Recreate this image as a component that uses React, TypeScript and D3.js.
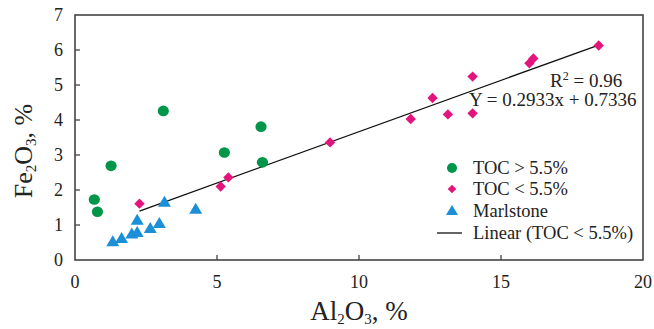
import React from "react";
import * as d3 from "d3";

const tocHighX = [0.68, 0.79, 1.27, 3.11, 5.26, 6.55, 6.6];
const tocHighY = [1.73, 1.38, 2.69, 4.26, 3.07, 3.81, 2.79];

const tocLowX = [2.27, 5.13, 5.4, 8.98, 11.82, 12.59, 13.13, 14.0, 14.0, 16.0, 16.14, 18.44];
const tocLowY = [1.61, 2.1, 2.36, 3.36, 4.03, 4.63, 4.16, 5.24, 4.19, 5.62, 5.76, 6.13];

const marlX = [1.33, 1.64, 2.0, 2.19, 2.19, 2.65, 2.97, 3.15, 4.25];
const marlY = [0.52, 0.61, 0.74, 0.78, 1.13, 0.9, 1.04, 1.65, 1.45];

const fitCoef = [0.2933, 0.7336];
const xTicks = [0, 5, 10, 15, 20];
const yTicks = [0, 1, 2, 3, 4, 5, 6, 7];
const legendLabels = ["TOC > 5.5%", "TOC < 5.5%", "Marlstone", "Linear (TOC < 5.5%)"];

const GREEN = "#00964a";
const PINK = "#e3147c";
const BLUE = "#1b8fd8";
const FONT = "Liberation Serif, DejaVu Serif, Times New Roman, serif";

export default function App() {
  const L = 75, R = 643, T = 15, B = 260;
  const x = d3.scaleLinear().domain([0, 20]).range([L, R]);
  const y = d3.scaleLinear().domain([0, 7]).range([B, T]);

  const lx0 = d3.min(tocLowX) as number;
  const lx1 = d3.max(tocLowX) as number;
  const line = d3.line<number>().x((d) => x(d)).y((d) => y(fitCoef[0] * d + fitCoef[1]));

  const diamond = (cx: number, cy: number, r: number) =>
    `M${cx},${cy - r}L${cx + r},${cy}L${cx},${cy + r}L${cx - r},${cy}Z`;
  const tri = (cx: number, cy: number, w: number, h: number) =>
    `M${cx},${cy - h * 0.6}L${cx + w / 2},${cy + h * 0.4}L${cx - w / 2},${cy + h * 0.4}Z`;

  const legX = 452, legTX = 473;
  const legY = [168, 189, 211, 233];
  const ts = { fontFamily: FONT } as React.CSSProperties;

  return (
    <svg
      width={654}
      height={329}
      style={{ position: "absolute", left: 0, top: 0, background: "#fff", fontFamily: FONT }}
    >
      <rect x={0} y={0} width={654} height={329} fill="#fff" />
      <rect x={L} y={T} width={R - L} height={B - T} fill="none" stroke="#444" strokeWidth={1.6} />
      {xTicks.slice(1, -1).map((t) => (
        <line key={"xt" + t} x1={x(t)} x2={x(t)} y1={B} y2={B - 5} stroke="#444" strokeWidth={1.3} />
      ))}
      {yTicks.slice(1, -1).map((t) => (
        <line key={"yt" + t} x1={L} x2={L + 5} y1={y(t)} y2={y(t)} stroke="#444" strokeWidth={1.3} />
      ))}
      {xTicks.map((t) => (
        <text key={"xl" + t} style={ts} x={x(t)} y={288} fontSize={18} textAnchor="middle" fill="#222">
          {t}
        </text>
      ))}
      {yTicks.map((t) => (
        <text key={"yl" + t} style={ts} x={63} y={y(t) + 6} fontSize={18} textAnchor="end" fill="#222">
          {t}
        </text>
      ))}
      <text style={ts} x={359} y={320} fontSize={27} textAnchor="middle" fill="#222">
        Al<tspan fontSize={15} dy={4}>2</tspan>
        <tspan dy={-4}>O</tspan>
        <tspan fontSize={15} dy={4}>3</tspan>
        <tspan dy={-4}>, %</tspan>
      </text>
      <text
        style={ts}
        transform={`translate(32,151) rotate(-90)`}
        x={0}
        y={0}
        fontSize={26}
        textAnchor="middle"
        fill="#222"
      >
        Fe<tspan fontSize={15} dy={4}>2</tspan>
        <tspan dy={-4}>O</tspan>
        <tspan fontSize={15} dy={4}>3</tspan>
        <tspan dy={-4}>, %</tspan>
      </text>
      <path d={line([lx0, lx1]) || ""} fill="none" stroke="#111" strokeWidth={1.3} />
      {tocHighX.map((v, i) => (
        <ellipse key={"g" + i} cx={x(v)} cy={y(tocHighY[i])} rx={5.6} ry={5.3} fill={GREEN} />
      ))}
      {tocLowX.map((v, i) => (
        <path key={"p" + i} d={diamond(x(v), y(tocLowY[i]), 5.2)} fill={PINK} />
      ))}
      {marlX.map((v, i) => (
        <path key={"b" + i} d={tri(x(v), y(marlY[i]), 13, 11)} fill={BLUE} />
      ))}
      <text style={ts} x={550} y={87} fontSize={19} fill="#222">
        R<tspan fontSize={12} dy={-7}>2</tspan>
        <tspan dy={7}> = 0.96</tspan>
      </text>
      <text style={ts} x={469} y={106} fontSize={19} fill="#222">
        Y = 0.2933x + 0.7336
      </text>
      <circle cx={legX} cy={legY[0]} r={5} fill={GREEN} />
      <path d={diamond(legX, legY[1], 4.3)} fill={PINK} />
      <path d={tri(legX, legY[2], 12, 10)} fill={BLUE} />
      <line x1={437} x2={462} y1={legY[3]} y2={legY[3]} stroke="#111" strokeWidth={1.3} />
      {legendLabels.map((s, i) => (
        <text key={"lg" + i} style={ts} x={legTX} y={legY[i] + 6} fontSize={18.5} fill="#222">
          {s}
        </text>
      ))}
    </svg>
  );
}
